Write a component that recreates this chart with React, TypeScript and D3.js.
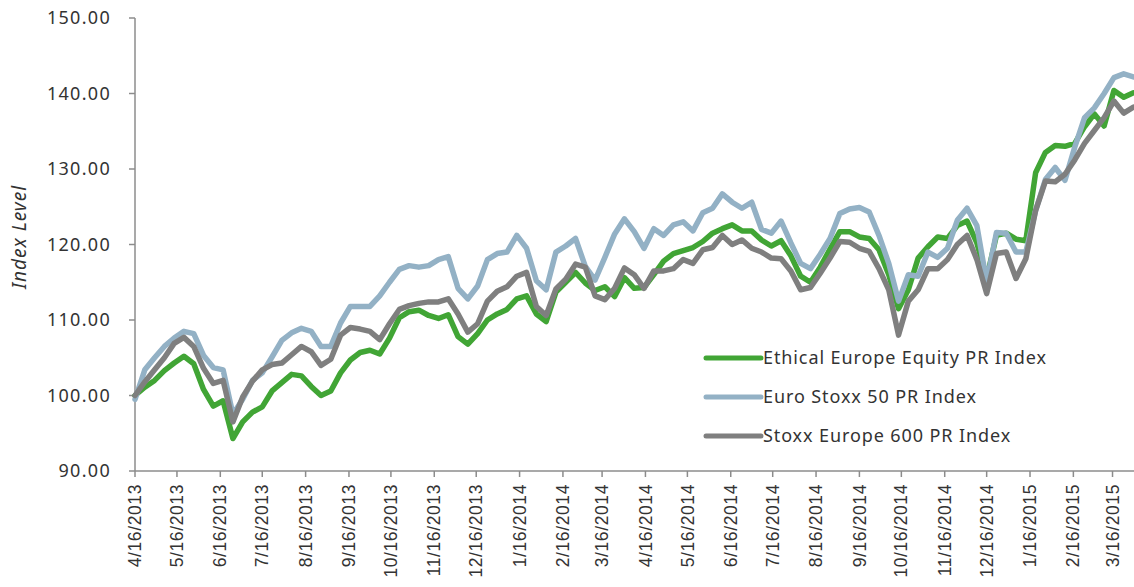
import React from 'react';
import * as d3 from 'd3';

// weekly closes, from 4/16/2013
const startDate = new Date(2013, 3, 16);
const endDate = new Date(2015, 2, 31);

const ethical = [
  100, 101.1, 102, 103.3, 104.3, 105.2, 104.2, 100.8, 98.6, 99.3,
  94.3, 96.5, 97.8, 98.5, 100.6, 101.7, 102.8, 102.6, 101.2, 100,
  100.6, 103, 104.7, 105.7, 106, 105.5, 107.6, 110.3, 111.1, 111.3,
  110.6, 110.2, 110.7, 107.8, 106.8, 108.2, 110, 110.8, 111.4, 112.8,
  113.2, 110.8, 109.8, 113.7, 115, 116.3, 114.9, 113.9, 114.4, 113.1,
  115.6, 114.2, 114.3, 116, 117.8, 118.8, 119.2, 119.6, 120.4, 121.5,
  122.1, 122.6, 121.8, 121.8, 120.6, 119.8, 120.5, 118.5, 115.8, 115,
  117, 119.4, 121.7, 121.7, 121, 120.8, 119.3, 116, 111.5, 114,
  118.2, 119.7, 121, 120.8, 122.5, 123.1, 120.2, 115.5, 121.2, 121.5,
  120.7, 120.5, 129.5, 132.2, 133.1, 133, 133.4, 135.6, 137.3, 135.7,
  140.4, 139.5, 140.1
];

const euroStoxx = [
  99.5, 103.4, 105, 106.5, 107.6, 108.5, 108.2, 105.3, 103.7, 103.4,
  97.5, 99.5, 102, 103, 105.1, 107.3, 108.3, 108.9, 108.5, 106.5,
  106.5, 109.6, 111.8, 111.8, 111.8, 113.2, 115, 116.7, 117.2, 117,
  117.2, 118, 118.4, 114.2, 112.8, 114.5, 118, 118.8, 119, 121.2,
  119.5, 115.2, 114, 119, 119.8, 120.8, 117.1, 115.3, 118.3, 121.4,
  123.4, 121.7, 119.5, 122.1, 121.2, 122.6, 123, 121.8, 124.2, 124.8,
  126.7, 125.6, 124.8, 125.6, 122, 121.5, 123.1, 120.2, 117.5, 116.8,
  118.7, 120.8, 124.1, 124.7, 124.9, 124.3, 121.2, 117.5, 112.5, 116,
  115.8, 119, 118.3, 119.5, 123.2, 124.8, 122.5, 115, 121.6, 121.5,
  119, 119, 124.5, 128.6, 130.2, 128.5, 132.9, 136.8, 138.1, 140,
  142.1, 142.6, 142.2
];

const stoxx600 = [
  100, 101.8, 103.4, 105, 106.9, 107.7, 106.5, 103.6, 101.6, 102,
  96.5, 99.8, 101.9, 103.4, 104.1, 104.3, 105.4, 106.5, 105.8, 104,
  104.8, 108, 109, 108.8, 108.5, 107.4, 109.5, 111.4, 111.9, 112.2,
  112.4, 112.4, 112.8, 110.8, 108.4, 109.5, 112.5, 113.8, 114.4, 115.8,
  116.3, 111.8, 110.6, 114.1, 115.4, 117.4, 117, 113.2, 112.7, 114.2,
  116.9, 116, 114.2, 116.5, 116.5, 116.8, 118, 117.5, 119.3, 119.6,
  121.2, 120, 120.6, 119.5, 119, 118.2, 118.1, 116.5, 114, 114.3,
  116.2, 118.2, 120.4, 120.3, 119.5, 119.1, 116.8, 114, 108, 112.5,
  114, 116.8, 116.8, 118, 120, 121.2, 118, 113.5, 118.8, 119,
  115.5, 118.1, 124.5, 128.4, 128.3, 129.3, 131.2, 133.4, 135.1, 136.8,
  139, 137.4, 138.2
];

const seriesNames = ['Ethical Europe Equity PR Index', 'Euro Stoxx 50 PR Index', 'Stoxx Europe 600 PR Index'];
const seriesColors = ['#41a535', '#93b1c5', '#7f7f7f'];
const yTicks = [90, 100, 110, 120, 130, 140, 150];

const W = 1134, H = 587;
const left = 135, top = 18, bottom = 471, right = 1134;

export default function App() {
  const dates = ethical.map((_, i) => d3.timeDay.offset(startDate, i * 7));
  const x = d3.scaleTime().domain([startDate, endDate]).range([left, 1133.5]);
  const y = d3.scaleLinear().domain([90, 150]).range([bottom, top]);
  const tickDates = d3.range(24).map(i => new Date(2013, 3 + i, 16));
  const fmt = d3.timeFormat('%-m/%-d/%Y');

  const line = d3.line<number>()
    .x((_, i) => x(dates[i]))
    .y(d => y(d));

  const all = [ethical, euroStoxx, stoxx600];
  const axisColor = '#8c8c8c';
  const textColor = '#333333';
  const font = "'Noto Sans', sans-serif";

  return (
    <svg width={W} height={H} style={{ position: 'absolute', left: 0, top: 0, background: '#fff' }}>
      {/* y axis */}
      <line x1={left} x2={left} y1={top} y2={bottom} stroke={axisColor} strokeWidth={1.5} />
      {yTicks.map(t => (
        <g key={t}>
          <line x1={left - 6} x2={left} y1={y(t)} y2={y(t)} stroke={axisColor} strokeWidth={1.5} />
          <text x={111} y={y(t)} dy="0.35em" textAnchor="end" fontSize={18} letterSpacing={1.3}
            fontFamily={font} fill={textColor}>{t.toFixed(2)}</text>
        </g>
      ))}
      <text transform={`translate(26,237) rotate(-90)`} textAnchor="middle" letterSpacing={1}
        fontSize={19} fontStyle="italic" fontFamily={font} fill={textColor}>Index Level</text>

      {/* x axis */}
      <line x1={left} x2={right} y1={bottom} y2={bottom} stroke={axisColor} strokeWidth={1.5} />
      {tickDates.map((d, i) => (
        <g key={i}>
          <line x1={x(d)} x2={x(d)} y1={bottom} y2={bottom + 6} stroke={axisColor} strokeWidth={1.5} />
          <text transform={`translate(${x(d)},${bottom + 13}) rotate(-90)`} dy="0.35em" textAnchor="end"
            fontSize={17.5} letterSpacing={0.6} fontFamily="'Liberation Sans', Arial, sans-serif"
            fill={textColor}>{fmt(d)}</text>
        </g>
      ))}

      {/* lines */}
      {all.map((s, i) => (
        <path key={i} d={line(s) || ''} fill="none" stroke={seriesColors[i]} strokeWidth={5.5}
          strokeLinejoin="round" strokeLinecap="round" />
      ))}

      {/* legend */}
      {seriesNames.map((n, i) => (
        <g key={n} transform={`translate(704,${358 + i * 39})`}>
          <line x1={2} x2={57} y1={0} y2={0} stroke={seriesColors[i]} strokeWidth={5} strokeLinecap="round" />
          <text x={59} y={0} dy="0.35em" fontSize={18} letterSpacing={0.9} fontFamily={font}
            fill={textColor}>{n}</text>
        </g>
      ))}
    </svg>
  );
}
